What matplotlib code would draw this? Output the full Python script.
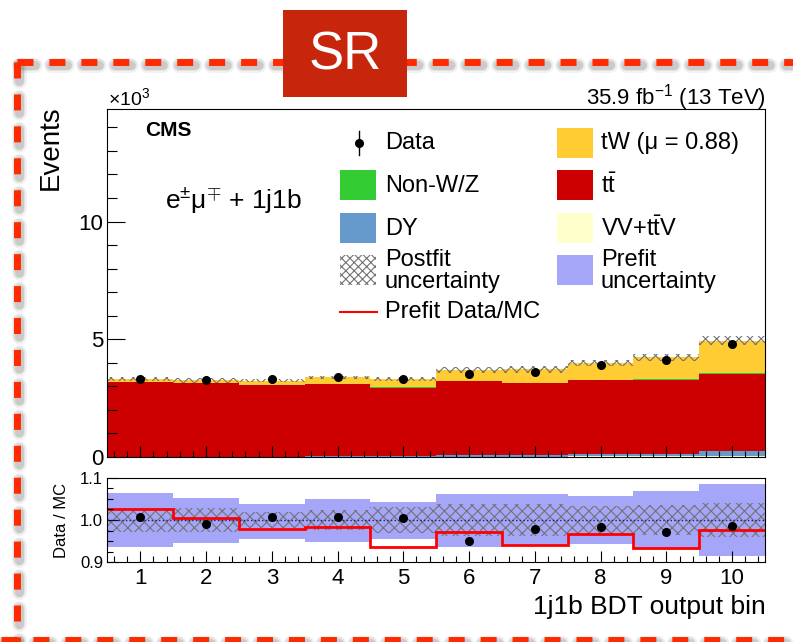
import numpy as np
import matplotlib.pyplot as plt
from matplotlib.patches import Rectangle
from matplotlib.lines import Line2D
from matplotlib.ticker import MultipleLocator, NullFormatter

plt.rcParams['font.family'] = ['Liberation Sans', 'DejaVu Sans']
plt.rcParams['mathtext.fontset'] = 'custom'
plt.rcParams['mathtext.rm'] = 'Liberation Sans'
plt.rcParams['mathtext.it'] = 'Liberation Sans:italic'
plt.rcParams['hatch.linewidth'] = 0.8

W, H = 793, 642

bins = np.arange(1, 11)
edges = np.arange(0.5, 11.0, 1.0)

# yields per BDT output bin (events), postfit
data = np.array([3310, 3250, 3310, 3400, 3330, 3520, 3630, 3900, 4100, 4820])
vv = np.array([15, 15, 15, 20, 20, 20, 20, 25, 25, 30])
dy = np.array([5, 5, 5, 40, 40, 50, 50, 90, 90, 220])
ttbar = np.array([3160, 3110, 3030, 3030, 2890, 3160, 3070, 3145, 3165, 3270])
nonwz = np.array([10, 10, 10, 10, 10, 15, 15, 20, 20, 30])
tw = np.array([110, 110, 180, 280, 350, 455, 575, 710, 930, 1390])

# relative postfit uncertainty
postfit_rel = np.array([0.028, 0.028, 0.020, 0.024, 0.030, 0.038, 0.038, 0.034, 0.036, 0.040])

# ratio panel
ratio_data = [1.006, 0.991, 1.006, 1.008, 1.004, 0.950, 0.979, 0.984, 0.972, 0.986]
prefit_ratio = [1.025, 1.004, 0.979, 0.983, 0.937, 0.971, 0.941, 0.966, 0.933, 0.976]
prefit_up = np.array([1.063, 1.051, 1.037, 1.050, 1.042, 1.061, 1.061, 1.057, 1.069, 1.085])
prefit_dn = np.array([0.937, 0.945, 0.955, 0.949, 0.955, 0.937, 0.941, 0.943, 0.933, 0.916])

c_tw = '#ffcc33'
c_tt = '#cc0000'
c_nonwz = '#33cc33'
c_dy = '#6699cc'
c_vv = '#ffffcc'
c_prefit = '#a6a6f8'
c_hatch = '0.45'
hatch = 'xxx'


def fx(x):
    return x / W


def fy(y):
    return 1 - y / H


fig = plt.figure(figsize=(W / 100, H / 100), dpi=100)
ax = fig.add_axes([fx(107.4), fy(457), (765 - 107.4) / W, (457 - 109) / H])
rx = fig.add_axes([fx(107.4), fy(562.3), (765 - 107.4) / W, (562.3 - 477.7) / H])

# stacked backgrounds
bottom = np.zeros(len(bins))
for vals, col in [(vv, c_vv), (dy, c_dy), (ttbar, c_tt), (nonwz, c_nonwz), (tw, c_tw)]:
    ax.stairs((bottom + vals) / 1e3, edges, baseline=bottom / 1e3, fill=True,
              color=col, lw=0)
    bottom = bottom + vals
total = bottom

ax.bar(bins, 2 * postfit_rel * total / 1e3, bottom=total * (1 - postfit_rel) / 1e3,
       width=1, facecolor='none', edgecolor=c_hatch, hatch=hatch, lw=0)
ax.errorbar(bins, data / 1e3, yerr=np.sqrt(data) / 1e3, fmt='o', color='k',
            ms=5.5, elinewidth=1, capsize=0)

ax.set_xlim(0.5, 10.5)
ax.set_ylim(0, 14.78)
ax.yaxis.set_major_locator(MultipleLocator(5))
ax.yaxis.set_minor_locator(MultipleLocator(1))
ax.xaxis.set_major_locator(MultipleLocator(1))
ax.xaxis.set_minor_locator(MultipleLocator(0.2))
ax.xaxis.set_major_formatter(NullFormatter())
ax.tick_params(which='both', direction='in', top=False, right=False, width=0.8)
ax.tick_params(axis='y', which='major', length=13, labelsize=16, pad=3)
ax.tick_params(axis='y', which='minor', length=7)
ax.tick_params(axis='x', which='major', length=8)
ax.tick_params(axis='x', which='minor', length=4)

# ratio panel
rx.bar(bins, prefit_up - prefit_dn, bottom=prefit_dn, width=1, color=c_prefit, lw=0)
rx.bar(bins, 2 * postfit_rel, bottom=1 - postfit_rel, width=1, facecolor='none',
       edgecolor=c_hatch, hatch=hatch, lw=0)
rx.axhline(1.0, color='#1a1a80', ls=':', lw=1)
rx.stairs(prefit_ratio, edges, baseline=None, color='red', lw=2)
rx.plot(bins, ratio_data, 'o', color='k', ms=5.5)

rx.set_xlim(0.5, 10.5)
rx.set_ylim(0.9, 1.1)
rx.set_yticks([0.9, 1.0, 1.1], ['0.9', '1.0', '1.1'])
rx.yaxis.set_minor_locator(MultipleLocator(0.025))
rx.xaxis.set_major_locator(MultipleLocator(1))
rx.xaxis.set_minor_locator(MultipleLocator(0.2))
rx.tick_params(which='both', direction='in', top=False, right=False, width=0.8)
rx.tick_params(axis='y', which='major', length=8, labelsize=12, pad=3)
rx.tick_params(axis='y', which='minor', length=4)
rx.tick_params(axis='x', which='major', length=8, labelsize=16, pad=4)
rx.tick_params(axis='x', which='minor', length=4)

for a in (ax, rx):
    for sp in a.spines.values():
        sp.set_linewidth(0.8)

# axis titles and labels
fig.text(fx(51), fy(105), 'Events', rotation=90, ha='center', va='top', fontsize=20)
fig.text(fx(61), fy(520), 'Data / MC', rotation=90, ha='center', va='center', fontsize=12)
fig.text(fx(766), fy(607), '1j1b BDT output bin', ha='right', va='center', fontsize=19)
fig.text(fx(108), fy(98), r'$\times$10$^{3}$', ha='left', va='center', fontsize=14)
fig.text(fx(766), fy(98), r'35.9 fb$^{-1}$ (13 TeV)', ha='right', va='center', fontsize=16)
fig.text(fx(145), fy(130), 'CMS', ha='left', va='center', fontsize=15, fontweight='bold')
fig.text(fx(165), fy(200), r'e$^{\pm}$μ$^{\mp}$ + 1j1b', ha='left', va='center', fontsize=19)


# legend
def leg_patch(x0, y0, color, hatch=None):
    if hatch:
        p = Rectangle((fx(x0), fy(y0 + 30)), 36 / W, 30 / H, transform=fig.transFigure,
                      facecolor='none', edgecolor=c_hatch, hatch=hatch, lw=0)
    else:
        p = Rectangle((fx(x0), fy(y0 + 30)), 36 / W, 30 / H, transform=fig.transFigure,
                      facecolor=color, edgecolor='none')
    fig.add_artist(p)


leg_fs = 17
fig.add_artist(Line2D([fx(359), fx(359)], [fy(131), fy(155)], transform=fig.transFigure,
                      color='k', lw=1))
fig.add_artist(Line2D([fx(359)], [fy(143)], transform=fig.transFigure, marker='o',
                      color='k', ms=5.5))
fig.text(fx(385), fy(143), 'Data', va='center', fontsize=leg_fs)
leg_patch(340, 170, c_nonwz)
fig.text(fx(385), fy(186), 'Non-W/Z', va='center', fontsize=leg_fs)
leg_patch(340, 213, c_dy)
fig.text(fx(385), fy(229), 'DY', va='center', fontsize=leg_fs)
leg_patch(340, 255, None, hatch='xxxx')
fig.text(fx(385), fy(271), 'Postfit\nuncertainty', va='center', fontsize=leg_fs,
         linespacing=1.0)
fig.add_artist(Line2D([fx(340), fx(377)], [fy(312), fy(312)], transform=fig.transFigure,
                      color='red', lw=1.5))
fig.text(fx(385), fy(312), 'Prefit Data/MC', va='center', fontsize=leg_fs)

leg_patch(557, 128, c_tw)
fig.text(fx(601), fy(143), 'tW (μ = 0.88)', va='center', fontsize=leg_fs)
leg_patch(557, 170, c_tt)
fig.text(fx(601), fy(186), r't$\bar{\mathrm{t}}$', va='center', fontsize=leg_fs)
leg_patch(557, 213, c_vv)
fig.text(fx(601), fy(229), r'VV+t$\bar{\mathrm{t}}$V', va='center', fontsize=leg_fs)
leg_patch(557, 255, c_prefit)
fig.text(fx(601), fy(271), 'Prefit\nuncertainty', va='center', fontsize=leg_fs,
         linespacing=1.0)

# dashed region frame with soft shadow
frame = [((17, 62), (800, 62)), ((17, 62), (17, 650)), ((1, 640), (800, 640)),
         ((799, 62), (799, 650))]
for (x0, y0), (x1, y1) in frame:
    for extra, alpha in [(8, 0.07), (5, 0.10), (2, 0.15)]:
        lw = 5 + extra * 0.72
        dash = 2.3 * 5 / lw
        fig.add_artist(Line2D([fx(x0 + 1.5), fx(x1 + 1.5)], [fy(y0 + 3), fy(y1 + 3)],
                              transform=fig.transFigure, color='0.3', alpha=alpha,
                              lw=lw, ls=(0, (dash, dash)),
                              dash_capstyle='round', zorder=1))
    fig.add_artist(Line2D([fx(x0), fx(x1)], [fy(y0), fy(y1)], transform=fig.transFigure,
                          color='#ff2a00', lw=5, ls=(0, (2.3, 2.3)),
                          dash_capstyle='butt', zorder=2))

fig.add_artist(Rectangle((fx(283), fy(97)), 124 / W, 87 / H, transform=fig.transFigure,
                         facecolor='#c8260c', edgecolor='none', zorder=5))
fig.text(fx(345), fy(56), 'SR', ha='center', va='center', color='white', fontsize=38,
         zorder=6)

fig.savefig('out.png', dpi=100)
